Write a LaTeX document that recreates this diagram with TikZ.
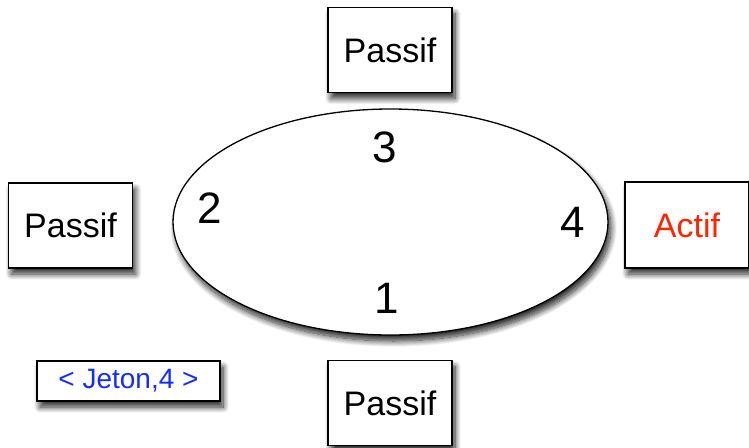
\documentclass[tikz,border=0pt]{standalone}
\usepackage{fontspec}
\setmainfont{Liberation Sans}
\usetikzlibrary{shapes.geometric,shadows.blur}

\definecolor{actifrouge}{RGB}{255,35,0}
\definecolor{jetonbleu}{RGB}{20,45,255}

\tikzset{
	ombre/.style={blur shadow={shadow xshift=3pt,shadow yshift=-6pt,shadow blur radius=6pt,shadow blur steps=12,shadow opacity=85}},
	site/.style={draw,line width=1.5pt,fill=white,ombre,minimum width=124pt,minimum height=85pt,inner sep=0pt,font=\fontsize{34}{40}\selectfont},
	numero/.style={font=\fontsize{44}{50}\selectfont,inner sep=0pt},
}

\begin{document}
\begin{tikzpicture}[x=1pt,y=-1pt]
	\useasboundingbox (0,0) rectangle (749,447);
	\node[draw,ellipse,line width=1.3pt,fill=white,ombre,minimum width=435pt,minimum height=226pt,inner sep=0pt] (anneau) at (390.5,222) {};
	\node[numero] (n3) at (385,147) {3};
	\node[numero] (n2) at (210,208) {2};
	\node[numero] (n4) at (573,222) {4};
	\node[numero] (n1) at (387,298) {1};
	\node[site] (haut) at (390,50) {Passif};
	\node[site] (gauche) at (70.5,225.5) {Passif};
	\node[site,minimum height=86pt,text=actifrouge] (droite) at (687,225) {Actif};
	\node[site] (bas) at (390,403) {Passif};
	\node[draw,line width=1.5pt,fill=white,ombre,minimum width=183pt,minimum height=40pt,inner sep=0pt,text=jetonbleu,font=\fontsize{28}{32}\selectfont] (jeton) at (128.5,381) {< Jeton,4 >};
\end{tikzpicture}
\end{document}
